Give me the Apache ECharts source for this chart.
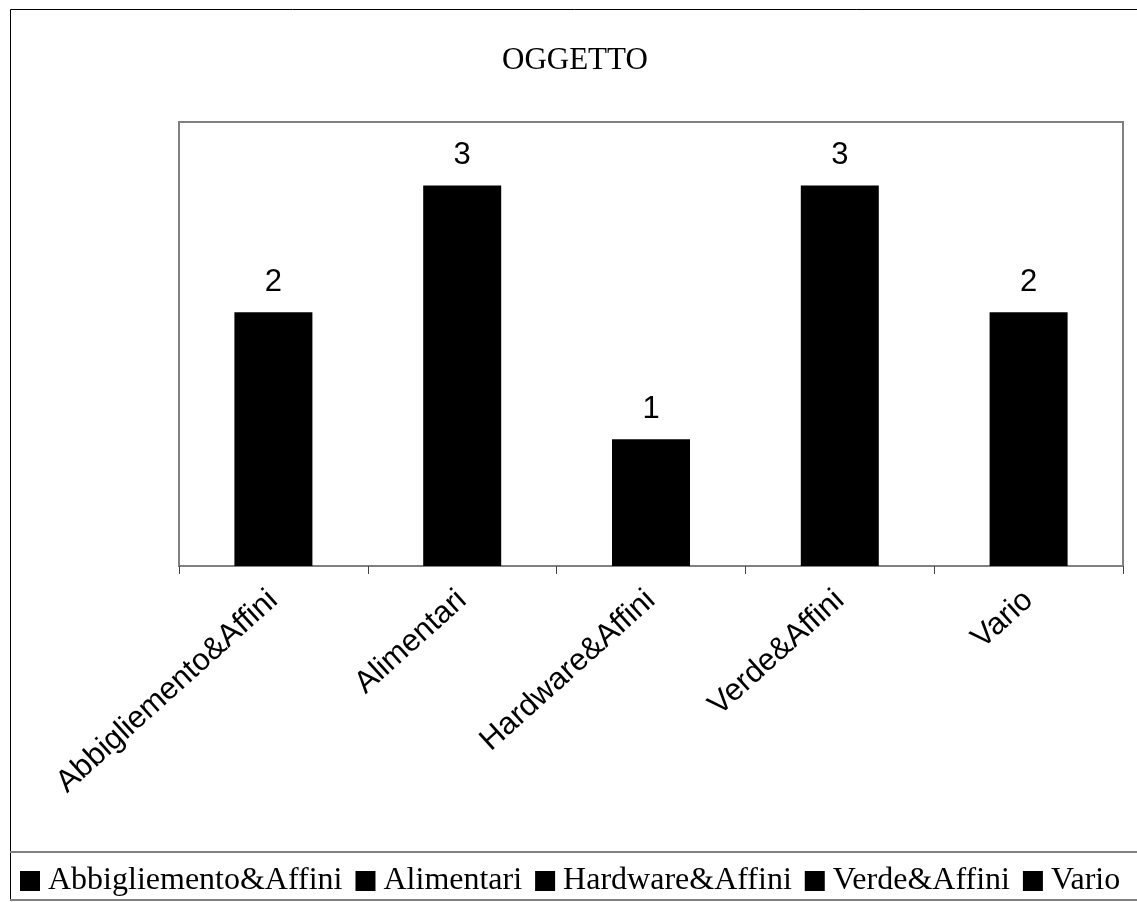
<!DOCTYPE html>
<html>
<head>
<meta charset="utf-8">
<script src="https://cdn.jsdelivr.net/npm/echarts@6/dist/echarts.min.js"></script>
<style>
  html, body { margin: 0; padding: 0; background: #fff; }
  #chart { width: 1137px; height: 902px; }
</style>
</head>
<body>
<div id="chart"></div>
<script>
// Categories and counts for the OGGETTO chart
const categories = ['Abbigliemento&Affini', 'Alimentari', 'Hardware&Affini', 'Verde&Affini', 'Vario'];
const counts = [2, 3, 1, 3, 2];
const chartTitle = 'OGGETTO';

// One series per category so each gets its own legend entry; stacking keeps
// every bar centred on its category slot.
const series = categories.map((name, i) => ({
  name: name,
  type: 'bar',
  stack: 'all',
  barWidth: 78,
  itemStyle: { color: '#000' },
  label: {
    show: true,
    position: 'top',
    distance: 14,
    color: '#000',
    fontFamily: 'Liberation Sans, Arial, sans-serif',
    fontSize: 31
  },
  data: counts.map((v, j) => (j === i ? v : '-'))
}));

const chart = echarts.init(document.getElementById('chart'), null, { renderer: 'canvas' });
chart.setOption({
  animation: false,
  backgroundColor: '#fff',
  title: {
    text: chartTitle,
    left: 497,
    top: 40,
    textStyle: {
      fontFamily: 'Liberation Serif, Times New Roman, serif',
      fontSize: 31,
      fontWeight: 'normal',
      color: '#000'
    }
  },
  legend: {
    left: 15,
    top: 860,
    icon: 'rect',
    itemWidth: 20,
    itemHeight: 20,
    itemGap: 13,
    data: categories,
    textStyle: {
      fontFamily: 'Liberation Serif, Times New Roman, serif',
      fontSize: 32,
      color: '#000',
      padding: [0, 0, 0, 3]
    }
  },
  grid: {
    left: 179,
    top: 122,
    right: 14,
    bottom: 336,
    show: true,
    borderColor: '#808080',
    borderWidth: 2,
    containLabel: false
  },
  xAxis: {
    type: 'category',
    data: categories,
    axisLine: { show: true, lineStyle: { color: '#808080', width: 2 } },
    axisTick: { show: true, alignWithLabel: false, length: 8, lineStyle: { color: '#444', width: 1 } },
    axisLabel: {
      rotate: 42,
      margin: 30,
      interval: 0,
      color: '#000',
      fontFamily: 'Liberation Sans, Arial, sans-serif',
      fontSize: 31
    }
  },
  yAxis: {
    type: 'value',
    min: 0,
    max: 3.5,
    show: false,
    splitLine: { show: false }
  },
  graphic: [
    {
      type: 'rect',
      shape: { x: 10.5, y: 9.5, width: 1140, height: 891 },
      style: { fill: 'none', stroke: '#000', lineWidth: 1 },
      silent: true
    },
    {
      type: 'line',
      shape: { x1: 10, y1: 852, x2: 1137, y2: 852 },
      style: { stroke: '#808080', lineWidth: 2 },
      silent: true
    },
    {
      type: 'line',
      shape: { x1: 10, y1: 900, x2: 1137, y2: 900 },
      style: { stroke: '#808080', lineWidth: 2 },
      silent: true
    }
  ],
  series: series
});
</script>
</body>
</html>
